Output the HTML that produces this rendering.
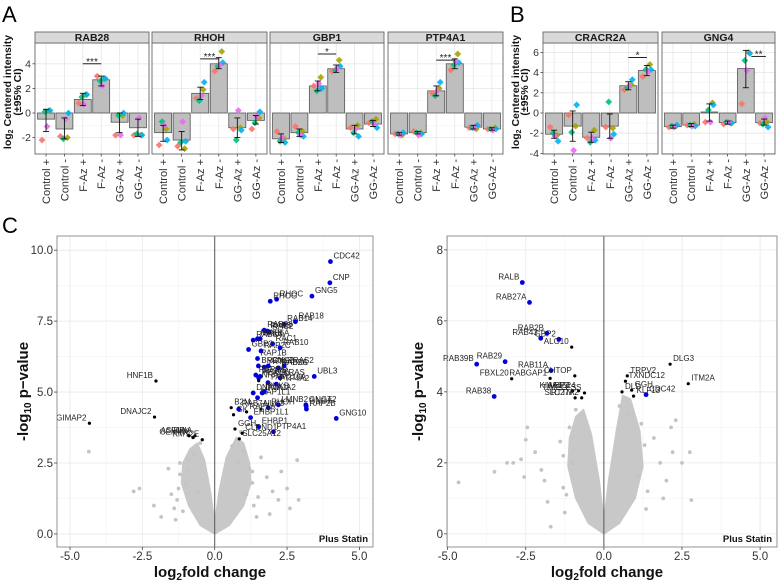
<!DOCTYPE html>
<html><head><meta charset="utf-8"><style>
html,body{margin:0;padding:0;background:#fff;}
svg{display:block;font-family:"Liberation Sans",Arial,sans-serif;}
</style></head><body>
<svg id="fig" width="778" height="583" viewBox="0 0 778 583" xmlns="http://www.w3.org/2000/svg"></svg>
<script>
// ---------- data: bar panels ----------
const categories = ["Control +","Control -","F-Az +","F-Az -","GG-Az +","GG-Az -"];
const repColors = ["#F8766D","#A3A500","#00BF7D","#00B0F6","#E76BF3"];
const rab28Bars = [-0.5,-1.3,1.1,2.7,-0.75,-1.2];
const rab28Lo = [-1.5,-2.1,0.6,2.2,-1.6,-1.9];
const rab28Hi = [0.3,-0.4,1.6,3.0,0.0,-0.5];
const rab28Dots = [[-2.2,0.2,0.1,0.2,-1.1],[-1.9,-2.0,-2.1,0.0,-0.5],[0.8,1.5,1.3,1.5,0.7],[3.0,2.8,2.6,2.8,2.2],[-1.8,-0.2,-0.2,0.0,-1.8],[-1.8,-1.8,-1.7,-1.8,-0.4]];
const rhohBars = [-1.6,-2.2,1.6,4.0,-1.2,-0.6];
const rhohLo = [-2.3,-3.0,1.1,3.6,-2.0,-0.9];
const rhohHi = [-1.0,-1.5,2.1,4.5,-0.4,-0.2];
const rhohDots = [[-2.6,-1.3,-0.7,-2.2,-1.0],[-2.7,-2.9,-2.4,-2.3,-0.7],[1.2,1.9,1.0,2.5,1.4],[3.4,5.0,3.8,4.1,3.9],[-1.3,-1.2,-2.2,-1.4,0.2],[-1.3,-0.4,-0.8,0.1,-0.3]];
const gbp1Bars = [-2.1,-1.6,2.2,3.6,-1.3,-0.9];
const gbp1Lo = [-2.4,-1.9,1.8,3.3,-1.7,-1.1];
const gbp1Hi = [-1.7,-1.3,2.6,3.9,-1.0,-0.6];
const gbp1Dots = [[-1.5,-2.1,-2.3,-2.4,-2.0],[-1.1,-1.5,-1.6,-1.9,-1.8],[2.2,2.9,1.8,2.0,2.4],[3.4,4.3,3.5,3.8,3.6],[-1.2,-1.0,-1.6,-1.9,-1.3],[-0.8,-0.5,-0.7,-1.2,-0.9]];
const ptp4a1Bars = [-1.7,-1.6,1.8,4.0,-1.15,-1.3];
const ptp4a1Lo = [-1.8,-1.7,1.4,3.6,-1.3,-1.4];
const ptp4a1Hi = [-1.6,-1.5,2.2,4.4,-1.0,-1.2];
const ptp4a1Dots = [[-1.7,-1.8,-1.7,-1.6,-1.8],[-1.5,-1.6,-1.6,-1.7,-1.8],[1.6,2.0,1.4,2.5,1.8],[3.5,4.8,3.9,4.1,4.2],[-1.2,-1.3,-1.2,-1.0,-1.2],[-1.3,-1.2,-1.3,-1.3,-1.4]];
const cracr2aBars = [-2.1,-1.3,-2.4,-1.3,2.7,4.2];
const cracr2aLo = [-2.5,-2.8,-2.9,-2.5,2.3,3.7];
const cracr2aHi = [-1.7,0.2,-1.9,-0.1,3.1,4.7];
const cracr2aDots = [[-1.4,-2.2,-2.0,-2.8,-2.3],[-0.2,-1.3,-1.9,0.8,-3.7],[-2.5,-1.7,-2.9,-2.7,-2.5],[-1.4,-1.5,1.1,-2.1,-2.5],[2.3,2.8,2.5,3.3,2.7],[3.6,4.8,4.3,4.3,4.1]];
const gng4Bars = [-1.35,-1.2,0.1,-0.95,4.4,-0.95];
const gng4Lo = [-1.5,-1.35,-0.8,-1.1,2.5,-1.2];
const gng4Hi = [-1.2,-1.05,0.9,-0.8,6.2,-0.6];
const gng4Dots = [[-1.4,-1.3,-1.3,-1.2,-1.4],[-1.2,-1.1,-1.2,-1.3,-1.3],[-0.9,1.0,0.3,0.8,-0.9],[-1.1,-1.0,-0.9,-1.0,-0.9],[0.9,6.0,5.2,5.9,4.2],[-1.0,-0.9,-1.1,-1.4,-0.5]];
const ticksA = [-2,0,2,4];
const ticksB = [-4,-2,0,2,4,6];

// ---------- data: volcano left ----------
const leftNames = ["CDC42","CNP","GNG5","RHOC","RHOG","RAB18","RAB14","RAB28","RALB","RAC2","RAC1","RAB8A","RHEB","RAB6A","GBP2","RAB10","RAP2C","RAB5C","RAP1B","YKT6","GNG2","BROX","RRAS2","RAB2A","RAP2A","PEX19","RAB4A","KRAS","UBL3","PTP4A2","FAM219A","PHKB","NRAS","DNAJA1","DNAJA2","NAP1L1","GNGT2","GNG8","LMNB2","RAP2B","RHOH","GNG10","RAB7A","B2M","EHBP1L1","ULK3","EHBP1","GK","PTP4A1","GGH","CLDND1","SLC25A12","HNF1B","DNAJC2","GIMAP2","ASF1A","RPIA","GEMIN8","KMT2E","RAP1A"];
const leftX = [4.0,3.98,3.36,2.14,1.92,2.79,2.4,1.71,1.82,1.88,2.0,1.33,1.48,1.57,1.17,2.26,1.6,2.2,1.48,1.71,1.85,1.51,2.4,2.2,1.42,1.52,1.57,2.26,3.44,2.13,1.84,1.72,1.52,1.33,1.64,1.48,3.15,3.16,2.2,3.17,1.85,4.2,0.83,0.57,1.24,1.6,1.52,0.65,2.03,0.7,0.95,0.85,-2.03,-2.08,-4.33,-0.89,-0.68,-0.75,-0.43,1.1];
const leftY = [9.6,8.85,8.38,8.27,8.2,7.48,7.39,7.18,7.15,7.12,6.7,6.83,6.88,6.88,6.5,6.56,6.45,5.85,6.18,5.88,5.92,5.92,5.92,5.84,5.6,5.5,5.55,5.5,5.55,5.28,5.33,5.02,5.4,4.97,4.97,4.8,4.55,4.5,4.55,4.4,4.45,4.07,4.4,4.45,4.1,4.4,3.78,4.2,3.6,3.7,3.55,3.35,5.39,4.12,3.9,3.46,3.46,3.4,3.32,4.3];
const leftSig = ["b","b","b","b","b","b","b","b","b","b","b","b","b","b","b","b","b","b","b","b","b","b","b","b","b","b","b","b","b","b","b","b","k","b","b","b","b","b","b","b","b","b","b","k","b","k","b","k","b","k","k","k","k","k","k","k","k","k","k","k"];
const leftBgX = [-4.35,-2.8,-2.6,-2.1,-1.85,-1.5,-1.3,-1.2,-1.0,-1.6,-0.9,-1.1,-1.4,1.5,1.8,2.0,2.2,2.5,2.85,2.9,2.3,1.6,1.2,2.6,1.9,-0.7,-0.5,0.6,1.0,1.3,-0.95,-0.6,1.1,0.8,-1.25,-1.35,1.35,1.45,-1.2,1.3,-0.75,0.9];
const leftBgY = [2.9,1.5,1.6,1.0,0.6,1.4,1.2,2.1,1.8,2.3,2.6,0.8,0.9,1.3,2.0,1.5,1.2,1.6,2.6,1.2,2.2,2.7,2.3,0.9,0.7,2.8,3.2,3.1,2.9,1.8,2.2,1.5,1.4,2.5,1.6,0.5,1.0,0.6,2.5,2.2,3.4,3.6];

// ---------- data: volcano right ----------
const rightNames = ["RALB","RAB27A","RAB2B","RAB43","GBP2","ALG10","RAB39B","RAB29","RAB11A","FBXL20","RABGAP1","CHTOP","WBP2","KIAA1524","TIMELESS","RTTN","SLC27A2","RAB38","TRPV2","TXNDC12","DLD","GGH","KLF13","CDC42","DLG3","ITM2A"];
const rightX = [-2.61,-2.38,-1.82,-2.02,-1.44,-1.03,-4.07,-3.16,-1.69,-2.95,-1.72,-0.93,-1.0,-0.81,-0.62,-0.92,-0.71,-3.51,0.75,0.69,0.58,0.89,0.95,1.35,2.12,2.7];
const rightY = [7.08,6.52,5.65,5.51,5.48,5.26,4.78,4.85,4.6,4.37,4.38,4.45,4.03,4.03,3.97,3.83,3.83,3.87,4.45,4.3,4.0,4.05,3.88,3.92,4.78,4.23];
const rightSig = ["b","b","b","b","b","k","b","b","b","k","k","k","k","k","k","k","k","b","k","k","k","k","k","b","k","k"];
const rightBgX = [-4.65,-3.5,-3.1,-2.9,-2.65,-2.55,-2.5,-2.45,-2.0,-1.9,-1.7,-1.8,-1.3,-1.0,-1.4,1.8,2.0,2.2,2.3,2.5,2.75,2.8,1.9,1.6,1.3,2.15,-0.9,0.5,0.8,-1.2,1.1,-2.2,-1.25,1.35,-1.1,1.2,-1.3,1.4];
const rightBgY = [1.45,1.75,2.0,2.0,2.1,1.6,2.65,3.0,1.8,1.5,0.2,0.9,1.3,2.0,2.6,2.0,1.5,2.3,3.2,2.0,2.3,0.95,1.0,2.7,2.5,3.0,3.5,3.6,3.4,1.1,1.6,2.3,0.6,0.7,3.0,3.1,2.2,1.2];

// ---------- helpers ----------
const NS = "http://www.w3.org/2000/svg";
const svg = document.getElementById("fig");
function mk(tag, attrs, parent) {
  const e = document.createElementNS(NS, tag);
  for (const k in attrs) e.setAttribute(k, attrs[k]);
  (parent || svg).appendChild(e);
  return e;
}
function txt(s, attrs, parent) { const t = mk("text", attrs, parent); t.textContent = s; return t; }

// ---------- bar panel ----------
const jitter = [-4, 3, -1, 4, 1];
function barPanel(name, title, x0, x1, ymin, ymax, bars, lo, hi, dots, sig, ticks, showY) {
  const g = mk("g", {});
  
  
  const yT = 43, yB = 154;
  const ys = v => yB - (v - ymin) / (ymax - ymin) * (yB - yT);
  const step = (x1 - x0) / 6.2;
  const xs = i => x0 + (0.6 + i) * step;
  mk("rect", {x:x0, y:yT, width:x1-x0, height:yB-yT, fill:"#fff"}, g);
  for (let i = 0; i < ticks.length - 1; i++) {
    const m = (ticks[i] + ticks[i+1]) / 2;
    mk("line", {x1:x0, x2:x1, y1:ys(m), y2:ys(m), stroke:"#f2f2f2", "stroke-width":0.6}, g);
  }
  ticks.forEach(t => mk("line", {x1:x0, x2:x1, y1:ys(t), y2:ys(t), stroke:"#e6e6e6", "stroke-width":0.8}, g));
  categories.forEach((c, i) => mk("line", {x1:xs(i), x2:xs(i), y1:yT, y2:yB, stroke:"#e6e6e6", "stroke-width":0.8}, g));
  bars.forEach((v, i) => {
    const w = step * 0.92;
    const r = mk("rect", {x:xs(i)-w/2, y:Math.min(ys(0), ys(v)), width:w, height:Math.abs(ys(v)-ys(0)), fill:"#bebebe", stroke:"#555", "stroke-width":0.8}, g);
    
    
  });
  dots.forEach((arr, i) => arr.forEach((v, j) => {
    const cx = xs(i) + jitter[j], cy = ys(v), s = 3.4;
    const p = mk("polygon", {points:`${cx},${cy-s} ${cx+s},${cy} ${cx},${cy+s} ${cx-s},${cy}`, fill:repColors[j], opacity:0.9}, g);
    
    
  }));
  lo.forEach((l, i) => {
    const h = hi[i], cx = xs(i);
    mk("line", {x1:cx, x2:cx, y1:ys(l), y2:ys(h), stroke:"#111", "stroke-width":0.9}, g);
    mk("line", {x1:cx-3, x2:cx+3, y1:ys(l), y2:ys(l), stroke:"#111", "stroke-width":0.9}, g);
    mk("line", {x1:cx-3, x2:cx+3, y1:ys(h), y2:ys(h), stroke:"#111", "stroke-width":0.9}, g);
  });
  if (sig) {
    const a = xs(sig[0]), b = xs(sig[1]), y = ys(sig[2]);
    mk("line", {x1:a, x2:b, y1:y, y2:y, stroke:"#222", "stroke-width":1}, g);
    const s = txt(sig[3], {x:(a+b)/2, y:y+1, "text-anchor":"middle", "font-size":10, fill:"#222"}, g);
    
    
  }
  mk("rect", {x:x0, y:yT, width:x1-x0, height:yB-yT, fill:"none", stroke:"#666", "stroke-width":0.9}, g);
  const st = mk("rect", {x:x0, y:32, width:x1-x0, height:11, fill:"#d9d9d9", stroke:"#666", "stroke-width":0.9}, g);
  
  
  const tt = txt(title, {x:(x0+x1)/2, y:41, "text-anchor":"middle", "font-size":10.5, "font-weight":"bold", fill:"#1a1a1a"}, g);
  
  
  categories.forEach((c, i) => {
    mk("line", {x1:xs(i), x2:xs(i), y1:yB, y2:yB+2.5, stroke:"#444", "stroke-width":0.8}, g);
    const t = txt(c, {x:0, y:0, "text-anchor":"end", "font-size":11, fill:"#333", transform:`translate(${xs(i)+4},${yB+5}) rotate(-90)`}, g);
    
    
  });
  if (showY) {
    ticks.forEach(t => {
      mk("line", {x1:x0-2.5, x2:x0, y1:ys(t), y2:ys(t), stroke:"#444", "stroke-width":0.8}, g);
      const l = txt(String(t), {x:x0-4, y:ys(t)+3.5, "text-anchor":"end", "font-size":10.5, fill:"#333"}, g);
      
      
    });
  }
}
function yTitleBars(xa, xb, cy, name) {
  const g = mk("g", {});
  
  
  const t1 = txt("", {x:0, y:0, "text-anchor":"middle", "font-size":10.5, "font-weight":"bold", fill:"#111", transform:`translate(${xa},${cy}) rotate(-90)`}, g);
  t1.innerHTML = 'log<tspan font-size="7" dy="2">2</tspan><tspan dy="-2"> Centered intensity</tspan>';
  txt("(±95% CI)", {x:0, y:0, "text-anchor":"middle", "font-size":10.5, "font-weight":"bold", fill:"#111", transform:`translate(${xb},${cy}) rotate(-90)`}, g);
}

const aMin = -(154-113)/12.3, aMax = (113-43)/12.3;
const bMin = -(154-113)/10.1, bMax = (113-43)/10.1;
barPanel("rab28","RAB28",35,149,aMin,aMax,rab28Bars,rab28Lo,rab28Hi,rab28Dots,[2,3,4.0,"***"],ticksA,true);
barPanel("rhoh","RHOH",152,267,aMin,aMax,rhohBars,rhohLo,rhohHi,rhohDots,[2,3,4.4,"***"],ticksA,false);
barPanel("gbp1","GBP1",270,384,aMin,aMax,gbp1Bars,gbp1Lo,gbp1Hi,gbp1Dots,[2,3,4.8,"*"],ticksA,false);
barPanel("ptp4a1","PTP4A1",388,503,aMin,aMax,ptp4a1Bars,ptp4a1Lo,ptp4a1Hi,ptp4a1Dots,[2,3,4.3,"***"],ticksA,false);
barPanel("cracr2a","CRACR2A",543,658,bMin,bMax,cracr2aBars,cracr2aLo,cracr2aHi,cracr2aDots,[4,5,5.5,"*"],ticksB,true);
barPanel("gng4","GNG4",662,775,bMin,bMax,gng4Bars,gng4Lo,gng4Hi,gng4Dots,[4.3,5.1,5.6,"**"],ticksB,false);
yTitleBars(11, 21, 92, "y-axis-title-a");
yTitleBars(519, 528, 92, "y-axis-title-b");

[["A",2,22],["B",510,22],["C",2,233]].forEach(d => {
  const t = txt(d[0], {x:d[1], y:d[2], "font-size":22, fill:"#000"});
  
  
});

// ---------- volcano ----------
function volcano(name, x0, x1, yT, yB, xmin, xmax, ymin, ymax, yTicks, yFmt, names, X, Y, sig, bgX, bgY, cloud, titleX) {
  const g = mk("g", {});
  
  
  const xs = v => x0 + (v - xmin) / (xmax - xmin) * (x1 - x0);
  const ys = v => yB - (v - ymin) / (ymax - ymin) * (yB - yT);
  const xTicks = [-5, -2.5, 0, 2.5, 5];
  mk("rect", {x:x0, y:yT, width:x1-x0, height:yB-yT, fill:"#fff"}, g);
  for (let i = 0; i < xTicks.length - 1; i++) { const m = (xTicks[i]+xTicks[i+1])/2; mk("line", {x1:xs(m), x2:xs(m), y1:yT, y2:yB, stroke:"#f3f3f3", "stroke-width":0.6}, g); }
  for (let i = 0; i < yTicks.length - 1; i++) { const m = (yTicks[i]+yTicks[i+1])/2; mk("line", {x1:x0, x2:x1, y1:ys(m), y2:ys(m), stroke:"#f3f3f3", "stroke-width":0.6}, g); }
  xTicks.forEach(t => mk("line", {x1:xs(t), x2:xs(t), y1:yT, y2:yB, stroke:"#e8e8e8", "stroke-width":0.8}, g));
  yTicks.forEach(t => mk("line", {x1:x0, x2:x1, y1:ys(t), y2:ys(t), stroke:"#e8e8e8", "stroke-width":0.8}, g));
  cloud.forEach(poly => {
    const c = mk("polygon", {points: poly.map(p => xs(p[0]) + "," + ys(p[1])).join(" "), fill:"#c8c8c8", stroke:"#c8c8c8", "stroke-width":1.5, "stroke-linejoin":"round"}, g);
    
    
  });
  bgX.forEach((v, i) => {
    const c = mk("circle", {cx:xs(v), cy:ys(bgY[i]), r:1.9, fill:"#c4c4c4"}, g);
    
    
  });
  mk("line", {x1:xs(0), x2:xs(0), y1:yT, y2:yB, stroke:"#555", "stroke-width":1}, g);
  names.forEach((n, i) => {
    const blue = sig[i] === "b";
    const c = mk("circle", {cx:xs(X[i]), cy:ys(Y[i]), r: blue ? 2.4 : 1.6, fill: blue ? "#0000dd" : "#000"}, g);
    
    
    const left = X[i] < 0;
    const t = txt(n, {x:xs(X[i]) + (left ? -3 : 3), y:ys(Y[i]) - 3, "text-anchor": left ? "end" : "start", "font-size":8, fill:"#222"}, g);
    
    
  });
  mk("rect", {x:x0, y:yT, width:x1-x0, height:yB-yT, fill:"none", stroke:"#888", "stroke-width":0.9}, g);
  xTicks.forEach(t => {
    mk("line", {x1:xs(t), x2:xs(t), y1:yB, y2:yB+3, stroke:"#444", "stroke-width":0.8}, g);
    const l = txt(t.toFixed(1), {x:xs(t), y:yB+13, "text-anchor":"middle", "font-size":11.5, fill:"#333"}, g);
    
    
  });
  yTicks.forEach(t => {
    mk("line", {x1:x0-3, x2:x0, y1:ys(t), y2:ys(t), stroke:"#444", "stroke-width":0.8}, g);
    const l = txt(yFmt(t), {x:x0-4, y:ys(t)+4, "text-anchor":"end", "font-size":11.5, fill:"#333"}, g);
    
    
  });
  const ps = txt("Plus Statin", {x:x1-5, y:yB-5, "text-anchor":"end", "font-size":9.5, "font-weight":"bold", fill:"#111"}, g);
  
  
  const xt = txt("", {x:(x0+x1)/2 - 5, y:577, "text-anchor":"middle", "font-size":15, "font-weight":"bold", fill:"#111"}, g);
  xt.innerHTML = 'log<tspan font-size="10" dy="3">2</tspan><tspan dy="-3">fold change</tspan>';
  
  
  const yt = txt("", {x:0, y:0, "text-anchor":"middle", "font-size":15, "font-weight":"bold", fill:"#111", transform:`translate(${titleX},${(yT+yB)/2}) rotate(-90)`}, g);
  yt.innerHTML = '-log<tspan font-size="10" dy="3">10</tspan><tspan dy="-3">  p−value</tspan>';
  
  
}
const cloudLeft = [
  [[0,0],[-0.5,0.3],[-0.9,1.0],[-1.15,1.8],[-1.1,2.5],[-0.85,3.0],[-0.6,3.2],[-0.35,2.6],[-0.15,1.5],[-0.03,0.6],[0.03,0.6],[0.15,1.5],[0.4,2.7],[0.75,3.4],[1.0,3.2],[1.2,2.5],[1.25,1.8],[1.0,1.0],[0.5,0.3]]
];
const cloudRight = [
  [[0,0],[-0.5,0.3],[-0.9,1.0],[-1.15,1.9],[-1.1,2.7],[-0.9,3.3],[-0.65,3.5],[-0.4,2.8],[-0.15,1.5],[-0.03,0.6],[0.03,0.6],[0.15,1.5],[0.4,2.9],[0.6,3.9],[0.85,3.8],[1.15,2.9],[1.25,1.9],[1.0,1.0],[0.5,0.3]]
];
volcano("volcano-left",57,373,236,547,-5.45,5.47,-0.46,10.5,[0,2.5,5,7.5,10],t=>t.toFixed(1),leftNames,leftX,leftY,leftSig,leftBgX,leftBgY,cloudLeft,28);
volcano("volcano-right",447,777,236,547,-5.02,5.54,-0.37,8.39,[0,2,4,6,8],t=>String(t),rightNames,rightX,rightY,rightSig,rightBgX,rightBgY,cloudRight,423);
</script>
</body></html>
